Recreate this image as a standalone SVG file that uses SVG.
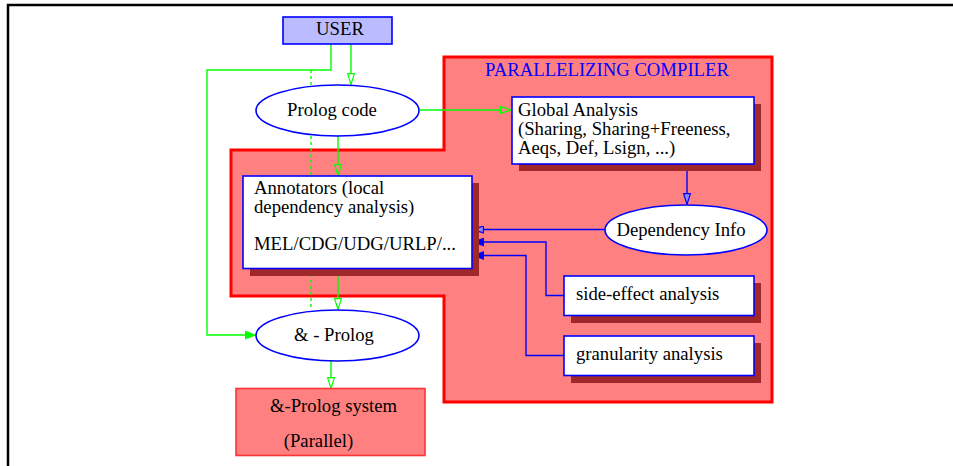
<svg xmlns="http://www.w3.org/2000/svg" width="953" height="466" viewBox="0 0 953 466">
<style>
text{font-family:"Liberation Serif","Times New Roman",serif;font-size:18.7px;fill:#000}
.box{fill:#fff;stroke:#0000ff;stroke-width:1.6}
.shadow{fill:#a0282a}
.ell{fill:#fff;stroke:#0000ff;stroke-width:1.6}
.g{fill:none;stroke:#00ff00;stroke-width:1.4}
.b{fill:none;stroke:#0000ff;stroke-width:1.4}
</style>
<defs>
<marker id="og" viewBox="0 0 12 8" markerWidth="12" markerHeight="8" refX="0" refY="4" orient="auto" markerUnits="userSpaceOnUse"><path d="M0.6,0.6 L11.4,4 L0.6,7.4 z" fill="none" stroke="#00ff00" stroke-width="1.2"/></marker>
<marker id="fg" viewBox="0 0 12 9" markerWidth="12" markerHeight="9" refX="0" refY="4.5" orient="auto" markerUnits="userSpaceOnUse"><path d="M0,0 L12,4.5 L0,9 z" fill="#00ff00"/></marker>
<marker id="ob" viewBox="0 0 12 8" markerWidth="12" markerHeight="8" refX="0" refY="4" orient="auto" markerUnits="userSpaceOnUse"><path d="M0.6,0.6 L11.4,4 L0.6,7.4 z" fill="#8c8cff" stroke="#0000ff" stroke-width="1.2"/></marker>
<marker id="fb" viewBox="0 0 12 9" markerWidth="12" markerHeight="9" refX="0" refY="4.5" orient="auto" markerUnits="userSpaceOnUse"><path d="M0,0 L12,4.5 L0,9 z" fill="#0000ff"/></marker>
</defs>
<g id="frame">
<line x1="7" y1="5" x2="953" y2="5" stroke="#000" stroke-width="2.5"/>
<line x1="8" y1="4" x2="8" y2="466" stroke="#000" stroke-width="2.5"/>
</g>
<g id="compiler">
<polygon points="444,57 772,57 772,402 444,402 444,296 231,296 231,150 444,150" fill="#ff8080" stroke="#ff0000" stroke-width="3"/>
<text x="607" y="76" text-anchor="middle" fill="#0000ff" style="fill:#0000ff">PARALLELIZING COMPILER</text>
</g>
<g id="connectors">
<path class="g" d="M351,44 V73" marker-end="url(#og)"/>
<path class="g" d="M331,44 V70 H207 V335 H245" marker-end="url(#fg)"/>
<path class="g" d="M311,70 V310" stroke-dasharray="3,3"/>
<path class="g" d="M420,110 H500" marker-end="url(#og)"/>
<path class="g" d="M338,136 V164" marker-end="url(#og)"/>
<path class="g" d="M338,268 V298" marker-end="url(#og)"/>
<path class="g" d="M331,361 V377" marker-end="url(#og)"/>
<path class="b" d="M687,164 V193" marker-end="url(#ob)"/>
<path class="b" d="M605,229.5 H484" marker-end="url(#ob)"/>
<path class="b" d="M564,295.5 H546 V242 H484" marker-end="url(#fb)"/>
<path class="b" d="M564,355.5 H526 V255.5 H484" marker-end="url(#fb)"/>
</g>
<g id="user">
<rect x="283" y="17" width="109" height="27" fill="#bbbbff" stroke="#0000ff" stroke-width="1.6"/>
<text x="340" y="35" text-anchor="middle">USER</text>
</g>
<g id="prolog-code">
<ellipse class="ell" cx="337.5" cy="110.5" rx="81.5" ry="25.5"/>
<text x="332" y="116" text-anchor="middle">Prolog code</text>
</g>
<g id="global-analysis">
<rect class="shadow" x="519" y="104" width="242" height="67"/>
<rect class="box" x="512" y="97" width="242" height="67"/>
<text x="518" y="116">Global Analysis</text>
<text x="518" y="135">(Sharing, Sharing+Freeness,</text>
<text x="518" y="153.5">Aeqs, Def, Lsign, ...)</text>
</g>
<g id="annotators">
<rect class="shadow" x="250" y="183" width="229" height="93"/>
<rect class="box" x="243" y="176" width="229" height="92.5"/>
<text x="254" y="194">Annotators (local</text>
<text x="254" y="212.5">dependency analysis)</text>
<text x="254" y="250">MEL/CDG/UDG/URLP/...</text>
</g>
<g id="dependency-info">
<ellipse class="ell" cx="686" cy="230" rx="81" ry="25"/>
<text x="681" y="236" text-anchor="middle">Dependency Info</text>
</g>
<g id="side-effect">
<rect class="shadow" x="571" y="283" width="190" height="40"/>
<rect class="box" x="564" y="276" width="190" height="39.5"/>
<text x="576" y="299.5">side-effect analysis</text>
</g>
<g id="granularity">
<rect class="shadow" x="571" y="343" width="190" height="40"/>
<rect class="box" x="564" y="336" width="190" height="39.5"/>
<text x="576" y="359.5">granularity analysis</text>
</g>
<g id="and-prolog">
<ellipse class="ell" cx="337.5" cy="335.5" rx="81.5" ry="25.5"/>
<text x="334" y="340.5" text-anchor="middle">&amp; - Prolog</text>
</g>
<g id="and-prolog-system">
<rect x="236" y="388.5" width="189" height="67" fill="#ff8080" stroke="#ff3333" stroke-width="1.6"/>
<text x="333.5" y="411.5" text-anchor="middle">&amp;-Prolog system</text>
<text x="318.5" y="446.5" text-anchor="middle">(Parallel)</text>
</g>
</svg>
